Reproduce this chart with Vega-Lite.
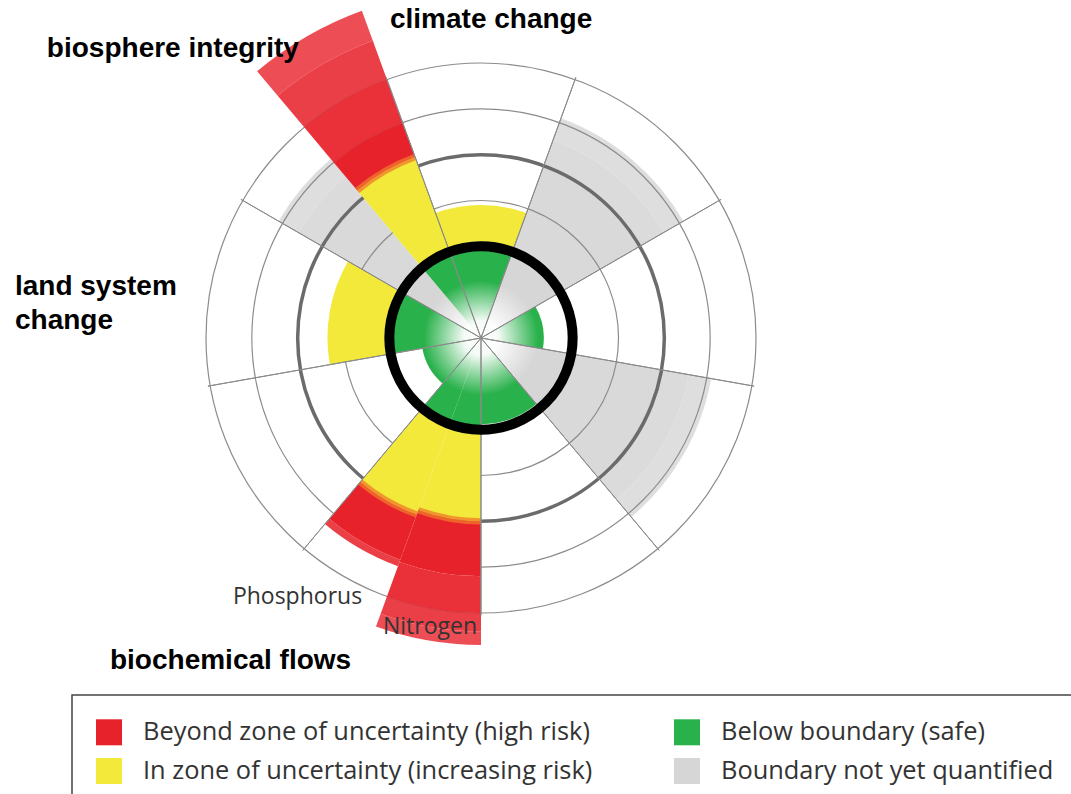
{
  "$schema": "https://vega.github.io/schema/vega-lite/v6.json",
  "width": 550,
  "height": 550,
  "autosize": {"type": "none"},
  "padding": {"left": 206, "top": 63, "right": 315, "bottom": 181},
  "background": "white",
  "config": {"view": {"stroke": null}, "legend": {"strokeWidth": 1.5}},
  "datasets": {
    "wedges": [
      {"boundary": "climate change", "start": -20, "end": 20, "inner": 0, "outer": 2.1, "status": "Below boundary (safe)", "level": "full"},
      {"boundary": "climate change", "start": -20, "end": 20, "inner": 2.1, "outer": 2.9, "status": "In zone of uncertainty (increasing risk)", "level": "full"},
      {"boundary": "novel entities", "start": 20, "end": 60, "inner": 0, "outer": 2.1, "status": "Boundary not yet quantified", "level": "full"},
      {"boundary": "novel entities", "start": 20, "end": 60, "inner": 2.1, "outer": 4.0, "status": "Boundary not yet quantified", "level": "high"},
      {"boundary": "novel entities", "start": 20, "end": 60, "inner": 4.0, "outer": 4.6, "status": "Boundary not yet quantified", "level": "mid"},
      {"boundary": "novel entities", "start": 20, "end": 60, "inner": 4.6, "outer": 5.1, "status": "Boundary not yet quantified", "level": "low"},
      {"boundary": "stratospheric ozone depletion", "start": 60, "end": 100, "inner": 0, "outer": 1.37, "status": "Below boundary (safe)", "level": "full"},
      {"boundary": "atmospheric aerosol loading", "start": 100, "end": 140, "inner": 0, "outer": 2.1, "status": "Boundary not yet quantified", "level": "full"},
      {"boundary": "atmospheric aerosol loading", "start": 100, "end": 140, "inner": 2.1, "outer": 4.0, "status": "Boundary not yet quantified", "level": "high"},
      {"boundary": "atmospheric aerosol loading", "start": 100, "end": 140, "inner": 4.0, "outer": 4.6, "status": "Boundary not yet quantified", "level": "mid"},
      {"boundary": "atmospheric aerosol loading", "start": 100, "end": 140, "inner": 4.6, "outer": 5.1, "status": "Boundary not yet quantified", "level": "low"},
      {"boundary": "ocean acidification", "start": 140, "end": 180, "inner": 0, "outer": 1.88, "status": "Below boundary (safe)", "level": "full"},
      {"boundary": "Nitrogen", "start": 180, "end": 200, "inner": 0, "outer": 2.1, "status": "Below boundary (safe)", "level": "full"},
      {"boundary": "Nitrogen", "start": 180, "end": 200, "inner": 2.1, "outer": 4.0, "status": "In zone of uncertainty (increasing risk)", "level": "full"},
      {"boundary": "Nitrogen", "start": 180, "end": 200, "inner": 4.0, "outer": 5.2, "status": "Beyond zone of uncertainty (high risk)", "level": "full"},
      {"boundary": "Nitrogen", "start": 180, "end": 200, "inner": 5.2, "outer": 6.0, "status": "Beyond zone of uncertainty (high risk)", "level": "high"},
      {"boundary": "Nitrogen", "start": 180, "end": 200, "inner": 6.0, "outer": 6.4, "status": "Beyond zone of uncertainty (high risk)", "level": "mid"},
      {"boundary": "Nitrogen", "start": 180, "end": 200, "inner": 6.4, "outer": 6.7, "status": "Beyond zone of uncertainty (high risk)", "level": "low"},
      {"boundary": "Phosphorus", "start": 200, "end": 220, "inner": 0, "outer": 2.1, "status": "Below boundary (safe)", "level": "full"},
      {"boundary": "Phosphorus", "start": 200, "end": 220, "inner": 2.1, "outer": 4.1, "status": "In zone of uncertainty (increasing risk)", "level": "full"},
      {"boundary": "Phosphorus", "start": 200, "end": 220, "inner": 4.1, "outer": 5.15, "status": "Beyond zone of uncertainty (high risk)", "level": "full"},
      {"boundary": "Phosphorus", "start": 200, "end": 220, "inner": 5.15, "outer": 5.3, "status": "Beyond zone of uncertainty (high risk)", "level": "mid"},
      {"boundary": "freshwater use", "start": 220, "end": 260, "inner": 0, "outer": 1.3, "status": "Below boundary (safe)", "level": "full"},
      {"boundary": "land system change", "start": 260, "end": 300, "inner": 0, "outer": 2.1, "status": "Below boundary (safe)", "level": "full"},
      {"boundary": "land system change", "start": 260, "end": 300, "inner": 2.1, "outer": 3.35, "status": "In zone of uncertainty (increasing risk)", "level": "full"},
      {"boundary": "functional diversity", "start": 300, "end": 320, "inner": 0, "outer": 2.1, "status": "Boundary not yet quantified", "level": "full"},
      {"boundary": "functional diversity", "start": 300, "end": 320, "inner": 2.1, "outer": 4.0, "status": "Boundary not yet quantified", "level": "high"},
      {"boundary": "functional diversity", "start": 300, "end": 320, "inner": 4.0, "outer": 4.6, "status": "Boundary not yet quantified", "level": "mid"},
      {"boundary": "functional diversity", "start": 300, "end": 320, "inner": 4.6, "outer": 5.1, "status": "Boundary not yet quantified", "level": "low"},
      {"boundary": "genetic diversity", "start": 320, "end": 340, "inner": 0, "outer": 2.1, "status": "Below boundary (safe)", "level": "full"},
      {"boundary": "genetic diversity", "start": 320, "end": 340, "inner": 2.1, "outer": 4.2, "status": "In zone of uncertainty (increasing risk)", "level": "full"},
      {"boundary": "genetic diversity", "start": 320, "end": 340, "inner": 4.2, "outer": 5.0, "status": "Beyond zone of uncertainty (high risk)", "level": "full"},
      {"boundary": "genetic diversity", "start": 320, "end": 340, "inner": 5.0, "outer": 6.0, "status": "Beyond zone of uncertainty (high risk)", "level": "high"},
      {"boundary": "genetic diversity", "start": 320, "end": 340, "inner": 6.0, "outer": 6.9, "status": "Beyond zone of uncertainty (high risk)", "level": "mid"},
      {"boundary": "genetic diversity", "start": 320, "end": 340, "inner": 6.9, "outer": 7.6, "status": "Beyond zone of uncertainty (high risk)", "level": "low"}
    ],
    "transitions": [
      {"boundary": "Nitrogen", "start": 180, "end": 200, "inner": 3.93, "outer": 4.07},
      {"boundary": "Phosphorus", "start": 200, "end": 220, "inner": 4.03, "outer": 4.17},
      {"boundary": "genetic diversity", "start": 320, "end": 340, "inner": 4.13, "outer": 4.27}
    ],
    "rings": [
      {"r": 2, "kind": "thin"},
      {"r": 3, "kind": "thin"},
      {"r": 4, "kind": "thick"},
      {"r": 5, "kind": "thin"},
      {"r": 6, "kind": "thin"}
    ],
    "spokes": [
      {"angle": -20}, {"angle": 20}, {"angle": 60}, {"angle": 100}, {"angle": 140},
      {"angle": 180}, {"angle": 220}, {"angle": 260}, {"angle": 300}
    ],
    "titles": [
      {"label": "climate change", "angle": 344.03, "dist": 7.22},
      {"label": "biosphere integrity", "angle": 303.66, "dist": 11.38},
      {"label": "land system\nchange", "angle": 276.25, "dist": 10.229},
      {"label": "biochemical flows", "angle": 229.0, "dist": 10.726}
    ],
    "subtitles": [
      {"label": "Phosphorus", "angle": 215.37, "dist": 6.917},
      {"label": "Nitrogen", "angle": 190.02, "dist": 6.393}
    ]
  },
  "layer": [
    {
      "data": {"name": "wedges"},
      "transform": [{"filter": "datum.status === 'Boundary not yet quantified'"}],
      "mark": {"type": "arc"},
      "encoding": {
        "theta": {"field": "start", "type": "quantitative", "stack": null, "scale": {"domain": [0, 360]}},
        "theta2": {"field": "end"},
        "radius": {"field": "outer", "type": "quantitative", "stack": null, "scale": {"type": "linear", "domain": [0, 6], "range": [0, 275], "zero": true}},
        "radius2": {"field": "inner"},
        "color": {
          "field": "status", "type": "nominal",
          "scale": {
            "domain": ["Beyond zone of uncertainty (high risk)", "In zone of uncertainty (increasing risk)", "Below boundary (safe)", "Boundary not yet quantified"],
            "range": ["#E8222B", "#F2E93A", "#29B14B", "#D6D6D6"]
          },
          "legend": {
            "title": null, "orient": "none", "legendX": -134, "legendY": 632,
            "columns": 2, "columnPadding": 81, "rowPadding": 12, "padding": 24,
            "symbolType": "square", "symbolSize": 676, "symbolStrokeWidth": 0, "symbolOpacity": 1,
            "labelFont": "Open Sans", "labelFontSize": 25.4, "labelColor": "#333333", "labelOffset": 21, "labelLimit": 700,
            "strokeColor": "#444444", "fillColor": "white"
          }
        },
        "opacity": {"field": "level", "type": "ordinal", "scale": {"domain": ["full", "high", "mid", "low"], "range": [1, 0.8, 0.5, 0.25]}, "legend": null}
      }
    },
    {
      "data": {"name": "rings"},
      "mark": {"type": "arc", "fill": "transparent"},
      "encoding": {
        "theta": {"datum": 0, "type": "quantitative", "stack": null},
        "theta2": {"datum": 360},
        "radius": {"field": "r", "type": "quantitative", "stack": null},
        "stroke": {"field": "kind", "type": "nominal", "scale": {"domain": ["thin", "thick"], "range": ["#8c8c8c", "#6b6b6b"]}, "legend": null},
        "strokeWidth": {"field": "kind", "type": "nominal", "scale": {"domain": ["thin", "thick"], "range": [1.2, 3.5]}, "legend": null}
      }
    },
    {
      "data": {"name": "wedges"},
      "transform": [{"filter": "datum.status !== 'Boundary not yet quantified'"}],
      "mark": {"type": "arc"},
      "encoding": {
        "theta": {"field": "start", "type": "quantitative", "stack": null},
        "theta2": {"field": "end"},
        "radius": {"field": "outer", "type": "quantitative", "stack": null},
        "radius2": {"field": "inner"},
        "color": {"field": "status", "type": "nominal"},
        "opacity": {"field": "level", "type": "ordinal", "legend": null}
      }
    },
    {
      "data": {"name": "transitions"},
      "mark": {"type": "arc", "fill": "#F07A2A", "opacity": 0.75},
      "encoding": {
        "theta": {"field": "start", "type": "quantitative", "stack": null},
        "theta2": {"field": "end"},
        "radius": {"field": "outer", "type": "quantitative", "stack": null},
        "radius2": {"field": "inner"}
      }
    },
    {
      "data": {"values": [{"zone": "centre"}]},
      "mark": {
        "type": "arc",
        "fill": {
          "gradient": "radial", "x1": 0.5, "y1": 0.5, "x2": 0.5, "y2": 0.5, "r1": 0, "r2": 0.5,
          "stops": [
            {"offset": 0, "color": "rgba(255,255,255,1)"},
            {"offset": 0.3, "color": "rgba(255,255,255,0.95)"},
            {"offset": 0.7, "color": "rgba(255,255,255,0.4)"},
            {"offset": 1, "color": "rgba(255,255,255,0)"}
          ]
        }
      },
      "encoding": {
        "theta": {"datum": 0, "type": "quantitative", "stack": null},
        "theta2": {"datum": 360},
        "radius": {"datum": 1.25, "type": "quantitative", "stack": null}
      }
    },
    {
      "data": {"name": "spokes"},
      "mark": {"type": "arc", "fill": "transparent", "stroke": "#8a8a8a", "strokeWidth": 1},
      "encoding": {
        "theta": {"field": "angle", "type": "quantitative", "stack": null},
        "theta2": {"field": "angle"},
        "radius": {"datum": 6.05, "type": "quantitative", "stack": null}
      }
    },
    {
      "data": {"name": "rings"},
      "transform": [{"filter": "datum.r === 2"}],
      "mark": {"type": "arc", "fill": "transparent", "stroke": "#000000", "strokeWidth": 10},
      "encoding": {
        "theta": {"datum": 0, "type": "quantitative", "stack": null},
        "theta2": {"datum": 360},
        "radius": {"field": "r", "type": "quantitative", "stack": null}
      }
    },
    {
      "data": {"name": "titles"},
      "mark": {"type": "text", "align": "left", "baseline": "middle", "font": "Liberation Sans", "fontWeight": "bold", "fontSize": 28, "lineHeight": 34, "lineBreak": "\n", "color": "#000000"},
      "encoding": {
        "theta": {"field": "angle", "type": "quantitative", "stack": null},
        "radius": {"field": "dist", "type": "quantitative", "stack": null},
        "text": {"field": "label"}
      }
    },
    {
      "data": {"name": "subtitles"},
      "mark": {"type": "text", "align": "center", "baseline": "middle", "font": "Open Sans", "fontSize": 23, "color": "#333333"},
      "encoding": {
        "theta": {"field": "angle", "type": "quantitative", "stack": null},
        "radius": {"field": "dist", "type": "quantitative", "stack": null},
        "text": {"field": "label"}
      }
    }
  ]
}
